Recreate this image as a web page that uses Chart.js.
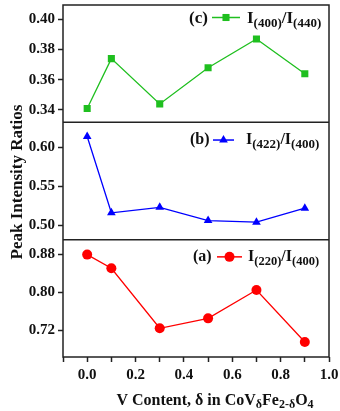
<!DOCTYPE html>
<html>
<head>
<meta charset="utf-8">
<script src="https://cdn.jsdelivr.net/npm/chart.js@4.4.1/dist/chart.umd.min.js"></script>
<style>
  body { margin: 0; background: #fff; }
  #wrap { position: relative; width: 340px; height: 411px; }
</style>
</head>
<body>
<div id="wrap"><canvas id="ratioChart"></canvas></div>
<script>
// V content (delta) in CoV(delta)Fe(2-delta)O4
const vContent = [0.0, 0.1, 0.3, 0.5, 0.7, 0.9];

// peak intensity ratios, one list per panel
const ratio400_440 = [0.341, 0.374, 0.344, 0.368, 0.387, 0.364];
const ratio422_400 = [0.614, 0.516, 0.523, 0.506, 0.504, 0.522];
const ratio220_400 = [0.880, 0.851, 0.724, 0.745, 0.805, 0.695];

// panels top -> bottom
const panelTags = ['(c)', '(b)', '(a)'];
const seriesNames = ['I_{(400)}/I_{(440)}', 'I_{(422)}/I_{(400)}', 'I_{(220)}/I_{(400)}'];
const seriesColors = ['#1fbf1f', '#0000ff', '#ff0000'];
const seriesMarkers = ['rect', 'triangle', 'circle'];
const yMins = [0.3318, 0.4815, 0.6632];
const yMaxs = [0.4095, 0.6322, 0.9116];
const ySteps = [0.02, 0.05, 0.08];

const xTickLabels = ['0.0', '0.2', '0.4', '0.6', '0.8', '1.0'];
const xTitle = 'V Content, \u03b4 in CoV_{\u03b4}Fe_{2-\u03b4}O_{4}';
const yTitle = 'Peak Intensity Ratios';

const FONT = '"Liberation Serif", "Times New Roman", serif';
const yIds = ['yC', 'yB', 'yA'];
const allSeries = [ratio400_440, ratio422_400, ratio220_400];

// split "a_{b}c" into normal / subscript pieces
function parseRich(str) {
    const parts = [];
    const re = /_\{([^}]*)\}/g;
    let last = 0, m;
    while ((m = re.exec(str)) !== null) {
        if (m.index > last) parts.push({ t: str.slice(last, m.index), sub: false });
        parts.push({ t: m[1], sub: true });
        last = re.lastIndex;
    }
    if (last < str.length) parts.push({ t: str.slice(last), sub: false });
    return parts;
}

function richWidth(ctx, parts, size, subSize) {
    let w = 0;
    parts.forEach(p => {
        ctx.font = 'bold ' + (p.sub ? subSize : size) + 'px ' + FONT;
        w += ctx.measureText(p.t).width;
    });
    return w;
}

function drawRich(ctx, str, x, y, size, subSize, subDy) {
    const parts = parseRich(str);
    ctx.textBaseline = 'alphabetic';
    ctx.textAlign = 'left';
    parts.forEach(p => {
        ctx.font = 'bold ' + (p.sub ? subSize : size) + 'px ' + FONT;
        ctx.fillText(p.t, x, p.sub ? y + subDy : y);
        x += ctx.measureText(p.t).width;
    });
}

// legend layout per panel: tag x, line start/end, text x, baseline offset from panel top
const legendLayout = [
    { tagX: 189, l1: 212, l2: 240, textX: 247, dy: 17.5, lineDy: 5, size: 17, sub: 13 },
    { tagX: 190, l1: 213, l2: 234, textX: 246, dy: 21.7, lineDy: 4, size: 16, sub: 13 },
    { tagX: 193, l1: 217, l2: 242, textX: 248, dy: 21.7, lineDy: 4.5, size: 16, sub: 12.5 }
];

const framePlugin = {
    id: 'frame',
    afterDraw(chart) {
        const ctx = chart.ctx;
        const area = chart.chartArea;
        ctx.save();
        ctx.strokeStyle = '#222';
        ctx.lineWidth = 1.5;
        ctx.strokeRect(area.left, area.top, area.right - area.left, area.bottom - area.top);
        ctx.beginPath();
        yIds.slice(0, 2).forEach(id => {
            const b = chart.scales[id].bottom;
            ctx.moveTo(area.left, b);
            ctx.lineTo(area.right, b);
        });
        ctx.stroke();

        // legends
        yIds.forEach((id, i) => {
            const L = legendLayout[i];
            const base = chart.scales[id].top + L.dy;
            ctx.font = 'bold ' + L.size + 'px ' + FONT;
            ctx.textAlign = 'left';
            ctx.textBaseline = 'alphabetic';
            ctx.fillStyle = '#111';
            ctx.fillText(panelTags[i], L.tagX, base);
            const ly = base - L.lineDy;
            ctx.strokeStyle = seriesColors[i];
            ctx.lineWidth = 1.5;
            ctx.beginPath();
            ctx.moveTo(L.l1, ly);
            ctx.lineTo(L.l2, ly);
            ctx.stroke();
            ctx.fillStyle = seriesColors[i];
            Chart.helpers.drawPoint(ctx, { pointStyle: seriesMarkers[i], radius: 5, rotation: 0, borderWidth: 0 }, (L.l1 + L.l2) / 2, ly);
            ctx.fillStyle = '#111';
            drawRich(ctx, seriesNames[i], L.textX, base, L.size, L.sub, 4);
        });

        // x title
        ctx.fillStyle = '#111';
        const xParts = parseRich(xTitle);
        const xw = richWidth(ctx, xParts, 16, 12);
        drawRich(ctx, xTitle, 215 - xw / 2, 404.5, 16, 12, 3.5);

        // y title
        ctx.translate(22, (area.top + area.bottom) / 2 + 1);
        ctx.rotate(-Math.PI / 2);
        ctx.font = 'bold 17px ' + FONT;
        ctx.textAlign = 'center';
        ctx.textBaseline = 'alphabetic';
        ctx.fillText(yTitle, 0, 0);
        ctx.restore();
    }
};

const datasets = allSeries.map((vals, i) => ({
    label: panelTags[i],
    data: vals.map((v, k) => ({ x: vContent[k], y: v })),
    yAxisID: yIds[i],
    borderColor: seriesColors[i],
    backgroundColor: seriesColors[i],
    borderWidth: 1.3,
    pointStyle: seriesMarkers[i],
    pointRadius: 5,
    pointBorderWidth: 0,
    tension: 0
}));

const scales = {
    x: {
        type: 'linear',
        min: -0.1,
        max: 1.0,
        border: { display: false },
        grid: { drawOnChartArea: false, drawTicks: true, tickLength: 5, color: '#222', tickWidth: 1.5 },
        ticks: {
            stepSize: 0.1,
            autoSkip: false,
            maxRotation: 0,
            padding: 4,
            color: '#111',
            font: { family: FONT, size: 15, weight: 'bold' },
            callback: v => {
                const lab = xTickLabels.find(t => Math.abs(parseFloat(t) - v) < 1e-6);
                return lab || '';
            }
        },
        afterFit: s => { s.height = 54; s.paddingLeft = 0; s.paddingRight = 0; }
    }
};

// stacked left axes are laid out bottom-first, so add them in reverse
yIds.slice().reverse().forEach(id => {
    const i = yIds.indexOf(id);
    scales[id] = {
        type: 'linear',
        position: 'left',
        stack: 'panels',
        stackWeight: 1,
        min: yMins[i],
        max: yMaxs[i],
        border: { display: false },
        grid: { drawOnChartArea: false, drawTicks: true, tickLength: 5, color: '#222', tickWidth: 1.5 },
        ticks: {
            stepSize: ySteps[i],
            includeBounds: false,
            padding: 3,
            color: '#111',
            font: { family: FONT, size: 15, weight: 'bold' },
            callback: v => v.toFixed(2)
        },
        afterFit: s => { s.width = 63; s.paddingTop = 0; s.paddingBottom = 0; }
    };
});

new Chart(document.getElementById('ratioChart').getContext('2d'), {
    type: 'line',
    data: { datasets: datasets },
    options: {
        responsive: true,
        maintainAspectRatio: false,
        animation: false,
        layout: { padding: { top: 2, right: 11, left: 0, bottom: 0 } },
        plugins: {
            legend: { display: false },
            tooltip: { enabled: false }
        },
        scales: scales
    },
    plugins: [framePlugin]
});
</script>
</body>
</html>
